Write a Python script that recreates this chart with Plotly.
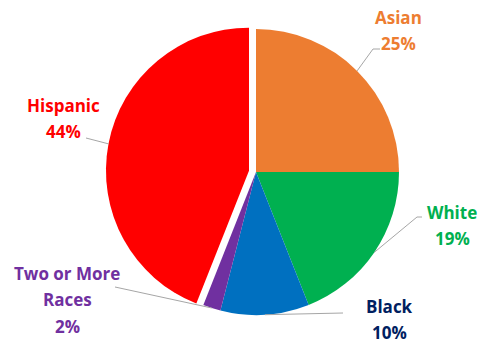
import math
import plotly.graph_objects as go

# Share of students by race / ethnicity
labels = ["Asian", "White", "Black", "Two or More Races", "Hispanic"]
values = [25, 19, 10, 2, 44]
slice_colors = ["#ED7D31", "#00B050", "#0070C0", "#7030A0", "#FF0000"]
label_colors = ["#ED7D31", "#00B050", "#002060", "#7030A0", "#FF0000"]
label_lines = [["Asian"], ["White"], ["Black"], ["Two or More", "Races"], ["Hispanic"]]
pulls = [0, 0, 0, 0, 0.05]

W, H = 481, 343
CX, CY = 256, 172          # pie centre in pixels
R = 143                    # pie radius in pixels
dom_half = R * (1 + max(pulls))

# label block centres (px) and leader-line elbows (px)
label_pos = [(398, 17), (452, 212), (389, 306), (67, 273), (63, 105)]
line_elbow = [[(380, 49), (373, 49)], [(422, 217), (417, 217)], [(343, 313)],
              [(115, 287)], [(86, 138)]]
LINE_GAP = 26.5

fig = go.Figure(go.Pie(
    labels=labels,
    values=values,
    marker=dict(colors=slice_colors, line=dict(width=0)),
    pull=pulls,
    sort=False,
    direction="clockwise",
    rotation=0,
    textinfo="none",
    hoverinfo="label+percent",
    showlegend=False,
    domain=dict(
        x=[(CX - dom_half - 60) / W, (CX + dom_half + 60) / W],
        y=[1 - (CY + dom_half) / H, 1 - (CY - dom_half) / H],
    ),
))

def px(x):
    return x / W

def py(y):
    return 1 - y / H

total = sum(values)
annotations = []
shapes = []
cum = 0
for lab, val, col, lines, pos, elbow, pull in zip(
        labels, values, label_colors, label_lines, label_pos, line_elbow, pulls):
    mid = (cum + val / 2) / total * 2 * math.pi
    cum += val
    # point on the arc at the slice middle, shifted by the slice's pull
    ax = CX + R * (1 + pull) * math.sin(mid)
    ay = CY - R * (1 + pull) * math.cos(mid)
    pts = elbow + [(ax, ay)]
    for (x0, y0), (x1, y1) in zip(pts[:-1], pts[1:]):
        shapes.append(dict(type="line", xref="paper", yref="paper",
                           x0=px(x0), y0=py(y0), x1=px(x1), y1=py(y1),
                           line=dict(color="#A6A6A6", width=1)))
    text_lines = lines + [f"{val}%"]
    for i, t in enumerate(text_lines):
        annotations.append(dict(
            text=f"<b>{t}</b>", xref="paper", yref="paper",
            x=px(pos[0]), y=py(pos[1] + i * LINE_GAP),
            xanchor="center", yanchor="middle", showarrow=False,
            font=dict(family="Open Sans", size=17, color=col),
        ))

fig.update_layout(
    width=W, height=H,
    margin=dict(l=0, r=0, t=0, b=0),
    paper_bgcolor="white",
    plot_bgcolor="white",
    annotations=annotations,
    shapes=shapes,
)

fig.write_html("out.html")
